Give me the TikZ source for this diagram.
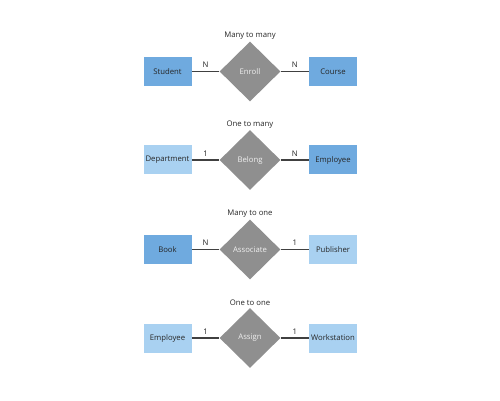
\documentclass[tikz,border=0pt]{standalone}
\usepackage{fontspec}
\setmainfont{Open Sans}
\usepackage{tikz}
\usetikzlibrary{
	shapes,
	shapes.geometric,
	positioning}

\definecolor{manyblue}{HTML}{6FAADF}
\definecolor{oneblue}{HTML}{A9D1F1}
\definecolor{relgray}{HTML}{8F8F8F}
\definecolor{linegray}{HTML}{404040}

\begin{document}
\begin{tikzpicture}[every node/.style={font=\fontsize{4.4}{5}\selectfont}]
  \tikzstyle{entity}=[rectangle,minimum width=0.96cm,minimum height=0.58cm,
    inner sep=0pt, text=black!85]
  \tikzstyle{many}=[entity,fill=manyblue]
  \tikzstyle{one}=[entity,fill=oneblue]
  \tikzstyle{relation}=[diamond,fill=relgray,minimum width=1.22cm,
    minimum height=1.2cm,inner sep=0pt,text=white!88!gray]
  \tikzstyle{link}=[draw=linegray,line width=0.6pt]
  \tikzstyle{card}=[above=1.4pt,inner sep=0.3pt,text=black!85]
  \tikzstyle{kind}=[above=0.2pt,inner sep=0.5pt,text=black!85]

  \useasboundingbox[fill=white] (0,0) rectangle (10,8);

  \node [relation] (enroll) at (5,6.57) {Enroll};
  \node [many] (student) at (3.35,6.57) {Student};
  \node [many] (course) at (6.66,6.57) {Course};
  \node [kind] at (enroll.north) {Many to many};
  \draw [link] (student) -- node [card] {N} (enroll);
  \draw [link] (enroll) -- node [card] {N} (course);

  \node [relation] (belong) at (5,4.8) {Belong};
  \node [one] (department) at (3.35,4.8) {Department};
  \node [many] (employeeA) at (6.66,4.8) {Employee};
  \node [kind] at (belong.north) {One to many};
  \draw [link] (department) -- node [card] {1} (belong);
  \draw [link] (belong) -- node [card] {N} (employeeA);

  \node [relation] (associate) at (5,3.01) {Associate};
  \node [many] (book) at (3.35,3.01) {Book};
  \node [one] (publisher) at (6.66,3.01) {Publisher};
  \node [kind] at (associate.north) {Many to one};
  \draw [link] (book) -- node [card] {N} (associate);
  \draw [link] (associate) -- node [card] {1} (publisher);

  \node [relation] (assign) at (5,1.24) {Assign};
  \node [one] (employeeB) at (3.35,1.24) {Employee};
  \node [one] (workstation) at (6.66,1.24) {Workstation};
  \node [kind] at (assign.north) {One to one};
  \draw [link] (employeeB) -- node [card] {1} (assign);
  \draw [link] (assign) -- node [card] {1} (workstation);
\end{tikzpicture}
\end{document}
